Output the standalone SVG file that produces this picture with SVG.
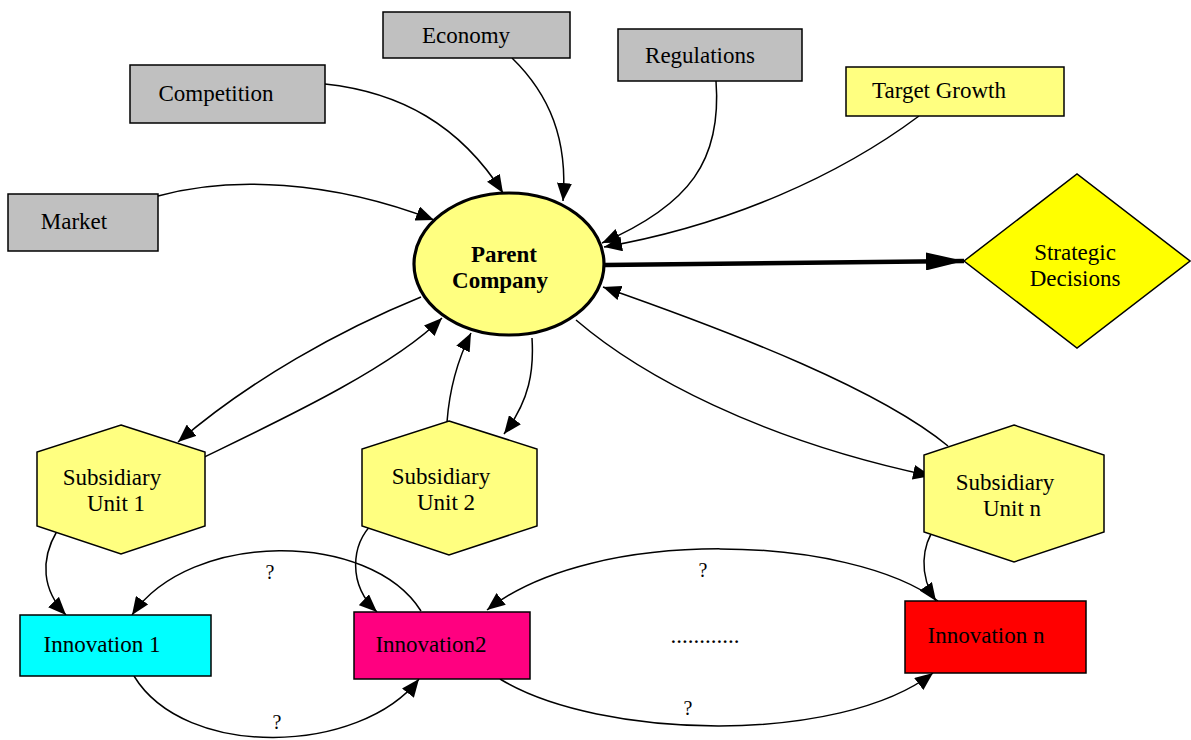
<svg xmlns="http://www.w3.org/2000/svg" width="1191" height="740" viewBox="0 0 1191 740">
<defs>
<style>
text{font-family:"Liberation Serif","Times New Roman",serif;font-size:23px;fill:#000;text-anchor:middle}
.b{font-weight:bold}
.n{stroke:#000;stroke-width:1.5}
.e{fill:none;stroke:#000;stroke-width:1.5}
.q{font-size:20px}
</style>
<marker id="a" viewBox="0 0 18 15" markerWidth="18" markerHeight="15" markerUnits="userSpaceOnUse" refX="18" refY="7.5" orient="auto">
<path d="M0,0 L18,7.5 L0,15 z" fill="#000"/>
</marker>
<marker id="ab" viewBox="0 0 38 18" markerWidth="38" markerHeight="18" markerUnits="userSpaceOnUse" refX="38" refY="9" orient="auto">
<path d="M0,0 L38,9 L0,18 z" fill="#000"/>
</marker>
</defs>
<rect width="1191" height="740" fill="#fff"/>
<g id="edges">
<path class="e" d="M158,196 C230,176 330,180 434,220" marker-end="url(#a)"/>
<path class="e" d="M325,84 C400,92 460,125 503,193" marker-end="url(#a)"/>
<path class="e" d="M512,58 C550,95 568,140 563,201" marker-end="url(#a)"/>
<path class="e" d="M716,81 C722,160 690,205 602,243" marker-end="url(#a)"/>
<path class="e" d="M919,116 C840,175 730,225 604,247" marker-end="url(#a)"/>
<path fill="none" stroke="#000" stroke-width="4.5" d="M605,265 L964,261" marker-end="url(#ab)"/>
<path class="e" d="M948,446 C880,390 740,335 603,287" marker-end="url(#a)"/>
<path class="e" d="M576,320 C640,375 760,440 931,476" marker-end="url(#a)"/>
<path class="e" d="M421,297 C340,330 250,380 178,442" marker-end="url(#a)"/>
<path class="e" d="M196,461 C270,425 390,370 442,318" marker-end="url(#a)"/>
<path class="e" d="M447,422 C449,395 455,365 471,333" marker-end="url(#a)"/>
<path class="e" d="M532,338 C534,370 530,400 504,434" marker-end="url(#a)"/>
<path class="e" d="M57,531 C40,560 42,590 66,615" marker-end="url(#a)"/>
<path class="e" d="M374,522 C350,545 348,585 377,612" marker-end="url(#a)"/>
<path class="e" d="M936,526 C922,545 918,575 936,601" marker-end="url(#a)"/>
<path class="e" d="M421,611 C370,530 190,530 132,615" marker-end="url(#a)"/>
<path class="e" d="M134,676 C185,760 360,755 419,679" marker-end="url(#a)"/>
<path class="e" d="M938,601 C850,535 595,525 487,610" marker-end="url(#a)"/>
<path class="e" d="M500,679 C600,740 840,745 933,673" marker-end="url(#a)"/>
<text class="q" x="270" y="579">?</text>
<text class="q" x="277" y="729">?</text>
<text class="q" x="703" y="577">?</text>
<text class="q" x="688" y="715">?</text>
</g>
<g id="economy"><rect class="n" x="383" y="12" width="187" height="46" fill="#c0c0c0"/><text x="466" y="43">Economy</text></g>
<g id="competition"><rect class="n" x="130" y="65" width="195" height="58" fill="#c0c0c0"/><text x="216" y="101">Competition</text></g>
<g id="market"><rect class="n" x="8" y="194" width="150" height="57" fill="#c0c0c0"/><text x="74" y="229">Market</text></g>
<g id="regulations"><rect class="n" x="618" y="29" width="184" height="52" fill="#c0c0c0"/><text x="700" y="63">Regulations</text></g>
<g id="target"><rect class="n" x="846" y="67" width="218" height="49" fill="#ffff80"/><text x="939" y="98">Target Growth</text></g>
<g id="parent"><ellipse cx="509" cy="264" rx="95" ry="71" fill="#ffff80" stroke="#000" stroke-width="3.2"/><text class="b" x="504" y="262">Parent</text><text class="b" x="500" y="288">Company</text></g>
<g id="strategic"><polygon class="n" points="964,261 1077,174 1190,261 1077,348" fill="#ffff00"/><text x="1075" y="260">Strategic</text><text x="1075" y="286">Decisions</text></g>
<g id="sub1"><polygon class="n" points="121,425 205,452 205,526 121,554 37,526 37,452" fill="#ffff80"/><text x="112" y="485">Subsidiary</text><text x="116" y="511">Unit 1</text></g>
<g id="sub2"><polygon class="n" points="449,421 537,449 537,526 449,555 362,526 362,449" fill="#ffff80"/><text x="441" y="484">Subsidiary</text><text x="446" y="510">Unit 2</text></g>
<g id="subn"><polygon class="n" points="1014,425 1104,455 1104,532 1014,562 924,532 924,455" fill="#ffff80"/><text x="1005" y="490">Subsidiary</text><text x="1012" y="516">Unit n</text></g>
<g id="inn1"><rect class="n" x="20" y="615" width="191" height="61" fill="#00ffff"/><text x="102" y="652">Innovation 1</text></g>
<g id="inn2"><rect class="n" x="354" y="612" width="176" height="67" fill="#ff0080"/><text x="431" y="652">Innovation2</text></g>
<g id="innn"><rect class="n" x="905" y="601" width="181" height="72" fill="#ff0000"/><text x="986" y="643">Innovation n</text></g>
<g id="dots"><text x="705" y="643">............</text></g>
</svg>
